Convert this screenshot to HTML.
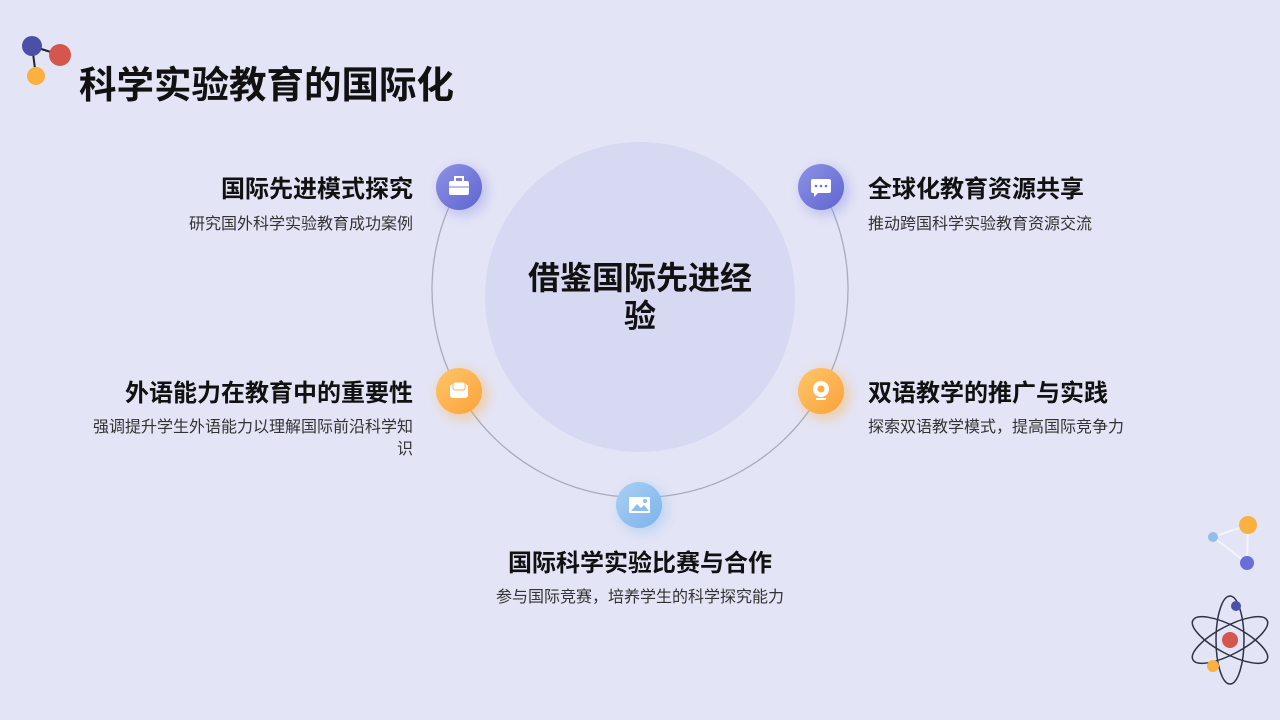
<!DOCTYPE html>
<html><head><meta charset="utf-8"><style>
body{margin:0;width:1280px;height:720px;background:#e3e4f5;font-family:"Liberation Sans","Noto Sans CJK SC",sans-serif;overflow:hidden;position:relative;color:#111}
.t{position:absolute;font-weight:bold;font-size:24px;white-space:nowrap}
.d{position:absolute;font-size:16px;color:#333;line-height:22px}
.r{text-align:right}
</style></head><body>
<svg width="1280" height="720" style="position:absolute;left:0;top:0">
<defs>
<linearGradient id="gb" x1="0" y1="0" x2="1" y2="1"><stop offset="0" stop-color="#8d92e6"/><stop offset="1" stop-color="#5f65cf"/></linearGradient>
<linearGradient id="go" x1="0" y1="0" x2="1" y2="1"><stop offset="0" stop-color="#ffc56a"/><stop offset="1" stop-color="#fba23a"/></linearGradient>
<linearGradient id="gl" x1="0" y1="0" x2="1" y2="1"><stop offset="0" stop-color="#a9d0f5"/><stop offset="1" stop-color="#7db3ea"/></linearGradient>
<filter id="sh" x="-50%" y="-50%" width="200%" height="200%"><feGaussianBlur stdDeviation="6"/></filter>
</defs>
<line x1="32" y1="46" x2="60" y2="55" stroke="#223" stroke-width="2"/>
<line x1="32" y1="46" x2="36" y2="76" stroke="#223" stroke-width="2"/>
<circle cx="32" cy="46" r="10" fill="#4a4fa8"/>
<circle cx="60" cy="55" r="11" fill="#d4574e"/>
<circle cx="36" cy="76" r="9" fill="#fbb040"/>
<circle cx="640" cy="297" r="155" fill="#d7d9f3"/>
<path d="M459,187 A208,208 0 1 0 821,187" fill="none" stroke="#a9abbf" stroke-width="1.3"/>
<g>
<circle cx="463" cy="191" r="24" fill="#8d92e6" opacity=".45" filter="url(#sh)"/>
<circle cx="459" cy="187" r="23" fill="url(#gb)"/>
<rect x="449" y="181" width="20" height="14" rx="2" fill="#fff"/><rect x="455" y="177" width="8" height="5" fill="none" stroke="#fff" stroke-width="2"/><line x1="449" y1="187" x2="469" y2="187" stroke="#7b80dc" stroke-width="1"/>
<circle cx="825" cy="191" r="24" fill="#8d92e6" opacity=".45" filter="url(#sh)"/>
<circle cx="821" cy="187" r="23" fill="url(#gb)"/>
<rect x="811" y="179" width="20" height="14" rx="2" fill="#fff"/><path d="M814,193 l0,4 l4,-4z" fill="#fff"/>
<circle cx="816" cy="186" r="1.3" fill="#6a70d6"/><circle cx="821" cy="186" r="1.3" fill="#6a70d6"/><circle cx="826" cy="186" r="1.3" fill="#6a70d6"/>
<circle cx="463" cy="395" r="24" fill="#fbb040" opacity=".45" filter="url(#sh)"/>
<circle cx="459" cy="391" r="23" fill="url(#go)"/>
<rect x="450" y="384" width="18" height="14" rx="3" fill="#fff"/><rect x="453" y="382" width="12" height="8" rx="2" fill="#fff" stroke="#fcb24c" stroke-width="1"/>
<circle cx="825" cy="395" r="24" fill="#fbb040" opacity=".45" filter="url(#sh)"/>
<circle cx="821" cy="391" r="23" fill="url(#go)"/>
<circle cx="821" cy="389" r="8" fill="#fff"/><circle cx="821" cy="389" r="3.5" fill="#fcae45"/><rect x="816" y="398" width="10" height="2" fill="#fff"/>
<circle cx="643" cy="509" r="24" fill="#8ec1f0" opacity=".45" filter="url(#sh)"/>
<circle cx="639" cy="505" r="23" fill="url(#gl)"/>
<rect x="629" y="497" width="21" height="16" rx="1" fill="#fff"/><path d="M631,511 l6,-7 l4,4 l3,-3 l5,6z" fill="#8fbdec"/><circle cx="645" cy="501" r="2" fill="#8fbdec"/>
</g>
<line x1="1213" y1="537" x2="1248" y2="525" stroke="#f4f4fb" stroke-width="2"/>
<line x1="1213" y1="537" x2="1247" y2="563" stroke="#f4f4fb" stroke-width="2"/>
<line x1="1248" y1="525" x2="1247" y2="563" stroke="#f4f4fb" stroke-width="2"/>
<circle cx="1213" cy="537" r="5" fill="#8fc0ec"/>
<circle cx="1248" cy="525" r="9" fill="#fbb040"/>
<circle cx="1247" cy="563" r="7" fill="#6a6fd8"/>
<g fill="none" stroke="#2f3348" stroke-width="1.5">
<ellipse cx="1230" cy="640" rx="14" ry="44"/>
<ellipse cx="1230" cy="640" rx="42" ry="14" transform="rotate(28 1230 640)"/>
<ellipse cx="1230" cy="640" rx="42" ry="14" transform="rotate(-28 1230 640)"/>
</g>
<circle cx="1230" cy="640" r="8" fill="#d4574e"/>
<circle cx="1236" cy="606" r="5" fill="#4a4fa8"/>
<circle cx="1213" cy="666" r="6" fill="#fbb040"/>
</svg>
<div class="t" style="left:79px;top:54px;font-size:37.5px">科学实验教育的国际化</div>
<div style="position:absolute;left:470px;top:259px;width:340px;text-align:center;font-weight:bold;font-size:32px;line-height:38px">借鉴国际先进经<br>验</div>
<div class="t r" style="right:867px;top:169px">国际先进模式探究</div>
<div class="d r" style="right:867px;top:214px">研究国外科学实验教育成功案例</div>
<div class="t r" style="right:867px;top:373px">外语能力在教育中的重要性</div>
<div class="d r" style="right:867px;top:417px;width:325px">强调提升学生外语能力以理解国际前沿科学知识</div>
<div class="t" style="left:868px;top:169px">全球化教育资源共享</div>
<div class="d" style="left:868px;top:214px">推动跨国科学实验教育资源交流</div>
<div class="t" style="left:868px;top:373px">双语教学的推广与实践</div>
<div class="d" style="left:868px;top:417px">探索双语教学模式，提高国际竞争力</div>
<div class="t" style="left:340px;width:600px;text-align:center;top:543px">国际科学实验比赛与合作</div>
<div class="d" style="left:340px;width:600px;text-align:center;top:587px">参与国际竞赛，培养学生的科学探究能力</div>
</body></html>
